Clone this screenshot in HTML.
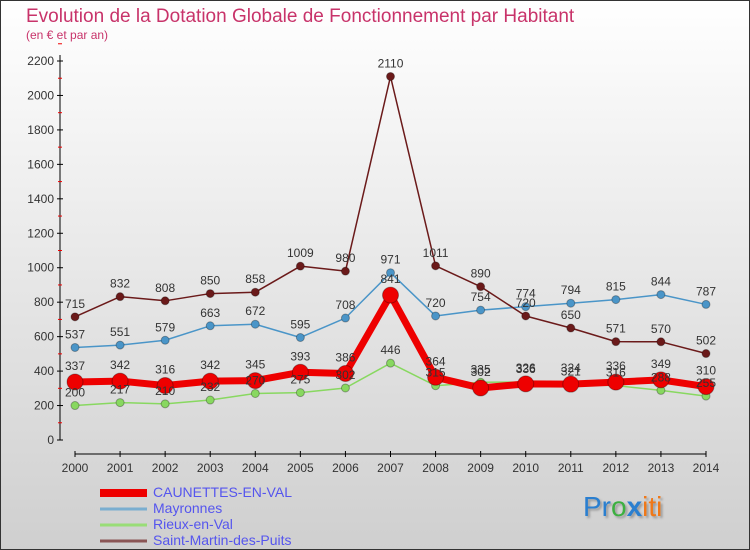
<!DOCTYPE html>
<html><head><meta charset="utf-8"><style>
body{margin:0}
#wrap{width:750px;height:550px;position:relative;overflow:hidden;background:linear-gradient(#ffffff,#cfcfcf);font-family:"Liberation Sans",sans-serif}
</style></head><body>
<div id="wrap">
<svg id="svg" width="750" height="550" xmlns="http://www.w3.org/2000/svg">
<rect x="0.5" y="0.5" width="749" height="549" fill="none" stroke="#333"/>
<text x="26" y="22" font-size="19" fill="#c8336a">Evolution de la Dotation Globale de Fonctionnement par Habitant</text>
<text x="26" y="39" font-size="12" fill="#c8336a">(en € et par an)</text>
<g id="axes"></g><g id="series"></g><g id="legend"></g>
<text x="583" y="516" font-size="28" style="text-shadow:2px 2px 2px #999"><tspan fill="#2a7fd0">Pr</tspan><tspan fill="#3cb040">o</tspan><tspan fill="#2a7fd0" font-weight="bold">x</tspan><tspan fill="#f07818">iti</tspan></text>
</svg></div>
<script>
const years=[2000,2001,2002,2003,2004,2005,2006,2007,2008,2009,2010,2011,2012,2013,2014];
const yTicks=[0,200,400,600,800,1000,1200,1400,1600,1800,2000,2200];
const caunettes=[337,342,316,342,345,393,386,841,364,302,326,324,336,349,310];
const mayronnes=[537,551,579,663,672,595,708,971,720,754,774,794,815,844,787];
const rieux=[200,217,210,232,270,275,302,446,315,335,336,321,316,288,255];
const saintMartin=[715,832,808,850,858,1009,980,2110,1011,890,720,650,571,570,502];
const NS="http://www.w3.org/2000/svg";
const X=i=>75+i*(631/14), Y=v=>440-v*(379/2200);
function mk(t,a,p){const e=document.createElementNS(NS,t);for(const k in a)e.setAttribute(k,a[k]);p.appendChild(e);return e;}
const ax=document.getElementById('axes');
const yl=mk('line',{x1:60,y1:440,x2:60,y2:55,stroke:'#000'},ax);


const xl=mk('line',{x1:75,y1:454,x2:706,y2:454,stroke:'#000'},ax);


yTicks.forEach(v=>{
 mk('line',{x1:57,x2:63,y1:Y(v),y2:Y(v),stroke:'#000'},ax);
 mk('line',{x1:58,x2:62,y1:Y(v+100),y2:Y(v+100),stroke:'#e00'},ax);
 const t=mk('text',{x:54,y:Y(v)+4,'text-anchor':'end','font-size':12,fill:'#333'},ax);t.textContent=v;
 
 
});
years.forEach((y,i)=>{
 mk('line',{x1:X(i),x2:X(i),y1:451,y2:457,stroke:'#000'},ax);
 const t=mk('text',{x:X(i),y:472,'text-anchor':'middle','font-size':12,fill:'#333'},ax);t.textContent=y;
 
 
});
const sg=document.getElementById('series');
const defs=[
 {d:saintMartin,c:'#6b1a1a',w:1.5,r:4,n:'saint-martin-des-puits'},
 {d:mayronnes,c:'#4a95c8',w:1.5,r:4,n:'mayronnes'},
 {d:rieux,c:'#88d860',w:1.5,r:4,n:'rieux-en-val'},
 {d:caunettes,c:'#ee0000',w:7,r:8,n:'caunettes-en-val'}];
const order=[2,3,1,0];
order.forEach(k=>{const s=defs[k];
 const p=mk('polyline',{points:s.d.map((v,i)=>X(i)+','+Y(v)).join(' '),fill:'none',stroke:s.c,'stroke-width':s.w,'stroke-linejoin':'round'},sg);
 
 
 s.d.forEach((v,i)=>{
  const c=mk('circle',{cx:X(i),cy:Y(v),r:s.r,fill:s.c,stroke:'rgba(0,0,0,0.3)'},sg);
  
  
 });
});
order.forEach(k=>{const s=defs[k];
 s.d.forEach((v,i)=>{
  const t=mk('text',{x:X(i),y:Y(v)-(k==3?12:9),'text-anchor':'middle','font-size':12,fill:'#333'},sg);t.textContent=v;
  
  
 });
});
const lg=document.getElementById('legend');
const leg=[['CAUNETTES-EN-VAL','#ee0000',8,'caunettes-en-val'],['Mayronnes','#7aaed0',3,'mayronnes'],['Rieux-en-Val','#99dd77',3,'rieux-en-val'],['Saint-Martin-des-Puits','#8a5555',3,'saint-martin-des-puits']];
leg.forEach((l,i)=>{const y=493+i*16;
 const ln=mk('line',{x1:100,x2:147,y1:y,y2:y,stroke:l[1],'stroke-width':l[2]},lg);
 
 
 const t=mk('text',{x:153,y:y+4,'font-size':14,fill:'#5555ee'},lg);t.textContent=l[0];
 
 
});
</script>
</body></html>
